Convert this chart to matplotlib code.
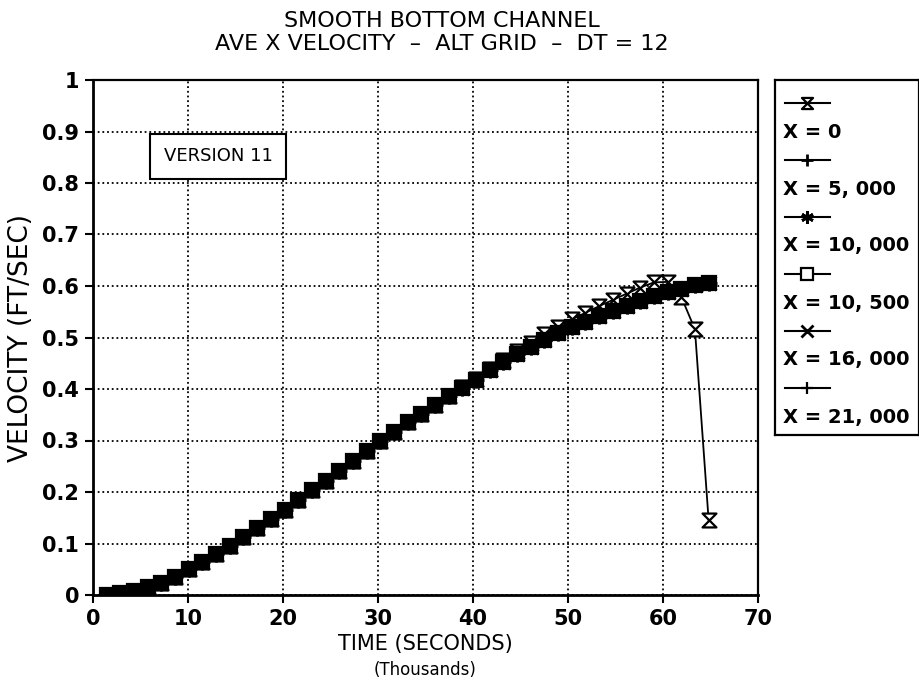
import matplotlib
matplotlib.use("Agg")
import matplotlib.pyplot as plt
from matplotlib.path import Path
from matplotlib.lines import Line2D
import numpy as np

# time in thousands of seconds (output every 1440 s)
time_k = [1.44, 2.88, 4.32, 5.76, 7.2, 8.64, 10.08, 11.52, 12.96, 14.4,
          15.84, 17.28, 18.72, 20.16, 21.6, 23.04, 24.48, 25.92, 27.36, 28.8,
          30.24, 31.68, 33.12, 34.56, 36.0, 37.44, 38.88, 40.32, 41.76, 43.2,
          44.64, 46.08, 47.52, 48.96, 50.4, 51.84, 53.28, 54.72, 56.16, 57.6,
          59.04, 60.48, 61.92, 63.36, 64.8]

# X = 5,000 ... 21,000 all lie on top of each other
v_interior = [0.000, 0.003, 0.008, 0.015, 0.024, 0.035, 0.050, 0.065, 0.080, 0.096,
              0.113, 0.130, 0.147, 0.165, 0.184, 0.203, 0.222, 0.241, 0.260, 0.279,
              0.299, 0.317, 0.335, 0.352, 0.369, 0.386, 0.402, 0.418, 0.436, 0.452,
              0.467, 0.481, 0.495, 0.508, 0.520, 0.531, 0.542, 0.552, 0.562, 0.571,
              0.580, 0.588, 0.595, 0.601, 0.606]

# X = 0 (boundary) runs a bit ahead late, then drops
v_x0 = [0.000, 0.003, 0.008, 0.015, 0.024, 0.035, 0.050, 0.065, 0.080, 0.096,
        0.113, 0.130, 0.147, 0.165, 0.184, 0.203, 0.222, 0.241, 0.260, 0.279,
        0.299, 0.317, 0.335, 0.352, 0.369, 0.386, 0.403, 0.420, 0.439, 0.457,
        0.474, 0.490, 0.506, 0.521, 0.535, 0.548, 0.561, 0.573, 0.585, 0.597,
        0.607, 0.608, 0.579, 0.516, 0.146]

labels = ["X = 0", "X = 5, 000", "X = 10, 000", "X = 10, 500", "X = 16, 000", "X = 21, 000"]

# hourglass marker (two triangles tip to tip)
hourglass = Path([(-1, 1), (1, 1), (-1, -1), (1, -1), (-1, 1)],
                 [Path.MOVETO, Path.LINETO, Path.LINETO, Path.LINETO, Path.CLOSEPOLY])

styles = [
    dict(marker=hourglass, markersize=10, markerfacecolor="white", markeredgewidth=1.6),
    dict(marker="+", markersize=11, markeredgewidth=2),
    dict(marker=(6, 2, 0), markersize=11, markeredgewidth=2),
    dict(marker="s", markersize=10, markerfacecolor="black", markeredgewidth=1.6),
    dict(marker="x", markersize=10, markeredgewidth=2),
    dict(marker="+", markersize=11, markeredgewidth=1.6),
]
legend_face = ["white", None, None, "white", None, None]

plt.rcParams["font.family"] = ["DejaVu Sans"]

fig = plt.figure(figsize=(9.2, 6.92), dpi=100)
ax = fig.add_axes([93/920, 1 - 595/692, (758 - 93)/920, (595 - 80)/692])

series = [v_x0] + [v_interior] * 5
for vals, st in zip(series, styles):
    ax.plot(time_k, vals, color="black", linewidth=1.3, markeredgecolor="black", **st)

ax.set_xlim(0, 70)
ax.set_ylim(0, 1)
ax.set_xticks(np.arange(0, 71, 10))
ax.set_yticks(np.arange(0, 1.01, 0.1))
ax.set_yticklabels(["0"] + [f"{v:.1f}" for v in np.arange(0.1, 0.95, 0.1)] + ["1"])
ax.grid(True, color="black", linestyle=(0, (1.0, 1.6)), linewidth=1.3)
ax.tick_params(axis="both", direction="out", length=6, width=1.5, labelsize=15, pad=4)
for lab in ax.get_xticklabels() + ax.get_yticklabels():
    lab.set_fontweight("bold")
for side in ["left", "bottom"]:
    ax.spines[side].set_linewidth(2)
for side in ["top", "right"]:
    ax.spines[side].set_linewidth(1.6)

ax.set_ylabel("VELOCITY (FT/SEC)", fontsize=19, labelpad=6)
ax.set_xlabel("TIME (SECONDS)", fontsize=15, labelpad=4)
ax.text(0.5, -0.145, "(Thousands)", transform=ax.transAxes, ha="center", va="center",
        fontsize=12)

fig.text(442/920, 1 - 21/692, "SMOOTH BOTTOM CHANNEL", ha="center", va="center", fontsize=16)
fig.text(442/920, 1 - 44/692, "AVE X VELOCITY  \u2013  ALT GRID  \u2013  DT = 12", ha="center",
         va="center", fontsize=16)

ax.text(0.188, 0.852, "VERSION 11", transform=ax.transAxes, ha="center", va="center",
        fontsize=13, bbox=dict(boxstyle="square,pad=0.75", facecolor="white",
                               edgecolor="black", linewidth=1.5))

# legend: handle on one row, label on the row below
lax = fig.add_axes([775/920, 1 - 435/692, (919 - 775)/920, (435 - 80)/692])
lax.set_xlim(0, 144)
lax.set_ylim(435, 80)
lax.set_xticks([])
lax.set_yticks([])
for sp in lax.spines.values():
    sp.set_linewidth(1.6)
for i, (lab, st, fc) in enumerate(zip(labels, styles, legend_face)):
    yh = 103 + 57 * i
    st = dict(st)
    st["markersize"] = st["markersize"] - 2
    if fc:
        st["markerfacecolor"] = fc
    lax.add_line(Line2D([10, 32.5, 55], [yh, yh, yh], color="black", linewidth=1.5,
                        markeredgecolor="black", markevery=[1], **st))
    lax.text(8, yh + 29, lab, ha="left", va="center", fontsize=14, fontweight="bold")

fig.savefig("out.png", dpi=100)
